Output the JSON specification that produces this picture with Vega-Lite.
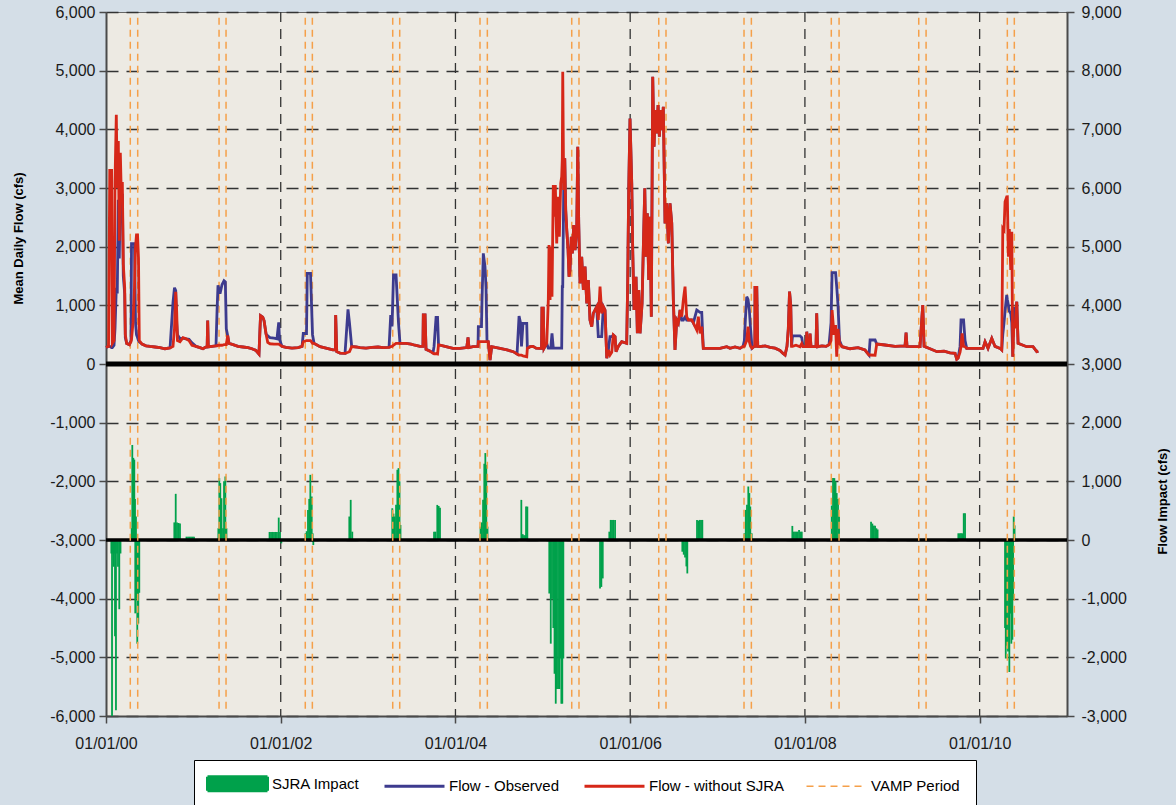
{
"$schema": "https://vega.github.io/schema/vega-lite/v6.json",
"width": 961, "height": 704,
"autosize": {"type": "none"},
"padding": {"left": 106, "top": 12, "right": 109, "bottom": 89},
"background": "#d4dee7",
"config": {
  "view": {"fill": "#edeae3", "stroke": "#666", "strokeWidth": 1},
  "font": "Liberation Sans",
  "axis": {"labelFont": "Liberation Sans", "titleFont": "Liberation Sans", "labelFontSize": 16, "labelColor": "#1a1a1a", "titleColor": "#000", "domainColor": "#4a4a4a", "domainWidth": 2, "tickColor": "#4a4a4a", "tickWidth": 1.5, "tickSize": 7},
  "axisX": {"grid": false}
},
"datasets": {
"flow": [
{"t":2000.000,"o":280,"w":285},{"t":2000.029,"o":300,"w":300},{"t":2000.043,"o":300,"w":3300},{"t":2000.064,"o":280,"w":3300},{"t":2000.072,"o":280,"w":350},{"t":2000.092,"o":320,"w":400},{"t":2000.103,"o":600,"w":3100},{"t":2000.118,"o":1300,"w":4250},{"t":2000.129,"o":1200,"w":3000},{"t":2000.141,"o":2800,"w":3800},{"t":2000.152,"o":1800,"w":2100},{"t":2000.164,"o":2900,"w":3600},{"t":2000.175,"o":2600,"w":2900},{"t":2000.187,"o":2900,"w":3100},{"t":2000.198,"o":1500,"w":1700},{"t":2000.214,"o":1200,"w":1300},{"t":2000.221,"o":450,"w":500},{"t":2000.237,"o":350,"w":350},{"t":2000.267,"o":330,"w":330},{"t":2000.286,"o":400,"w":380},{"t":2000.292,"o":2050,"w":420},{"t":2000.309,"o":2050,"w":700},{"t":2000.326,"o":2050,"w":1300},{"t":2000.338,"o":700,"w":2000},{"t":2000.349,"o":500,"w":2200},{"t":2000.361,"o":450,"w":2200},{"t":2000.372,"o":400,"w":1800},{"t":2000.381,"o":380,"w":400},{"t":2000.412,"o":340,"w":340},{"t":2000.458,"o":310,"w":310},{"t":2000.504,"o":300,"w":300},{"t":2000.561,"o":290,"w":290},{"t":2000.618,"o":280,"w":280},{"t":2000.675,"o":260,"w":260},{"t":2000.733,"o":275,"w":275},{"t":2000.767,"o":1050,"w":300},{"t":2000.784,"o":1300,"w":600},{"t":2000.798,"o":1250,"w":1230},{"t":2000.809,"o":700,"w":900},{"t":2000.818,"o":500,"w":400},{"t":2000.847,"o":430,"w":380},{"t":2000.881,"o":440,"w":450},{"t":2000.916,"o":430,"w":430},{"t":2000.950,"o":420,"w":400},{"t":2000.984,"o":360,"w":320},
{"t":2001.030,"o":300,"w":300},{"t":2001.076,"o":280,"w":280},{"t":2001.110,"o":260,"w":260},{"t":2001.133,"o":280,"w":280},{"t":2001.158,"o":300,"w":300},{"t":2001.164,"o":740,"w":740},{"t":2001.171,"o":290,"w":290},{"t":2001.213,"o":300,"w":300},{"t":2001.259,"o":310,"w":310},{"t":2001.271,"o":900,"w":310},{"t":2001.282,"o":1340,"w":320},{"t":2001.305,"o":1200,"w":320},{"t":2001.328,"o":1350,"w":320},{"t":2001.351,"o":1420,"w":330},{"t":2001.366,"o":1400,"w":330},{"t":2001.377,"o":600,"w":330},{"t":2001.393,"o":480,"w":485},{"t":2001.408,"o":350,"w":350},{"t":2001.454,"o":330,"w":330},{"t":2001.511,"o":300,"w":300},{"t":2001.568,"o":290,"w":290},{"t":2001.625,"o":280,"w":280},{"t":2001.671,"o":260,"w":260},{"t":2001.717,"o":230,"w":230},{"t":2001.751,"o":170,"w":170},{"t":2001.769,"o":826,"w":826},{"t":2001.794,"o":800,"w":800},{"t":2001.809,"o":740,"w":740},{"t":2001.832,"o":513,"w":513},{"t":2001.851,"o":480,"w":370},{"t":2001.877,"o":450,"w":345},{"t":2001.923,"o":440,"w":340},{"t":2001.957,"o":430,"w":340},{"t":2001.977,"o":710,"w":340},{"t":2001.986,"o":420,"w":330},
{"t":2002.015,"o":300,"w":300},{"t":2002.060,"o":285,"w":285},{"t":2002.129,"o":270,"w":270},{"t":2002.198,"o":280,"w":280},{"t":2002.244,"o":300,"w":300},{"t":2002.258,"o":520,"w":380},{"t":2002.295,"o":520,"w":400},{"t":2002.304,"o":1545,"w":400},{"t":2002.341,"o":1545,"w":400},{"t":2002.364,"o":500,"w":352},{"t":2002.381,"o":352,"w":352},{"t":2002.450,"o":295,"w":295},{"t":2002.530,"o":267,"w":267},{"t":2002.598,"o":240,"w":240},{"t":2002.626,"o":240,"w":240},{"t":2002.629,"o":835,"w":835},{"t":2002.641,"o":210,"w":210},{"t":2002.679,"o":185,"w":185},{"t":2002.736,"o":182,"w":182},{"t":2002.770,"o":932,"w":200},{"t":2002.787,"o":700,"w":210},{"t":2002.812,"o":300,"w":295},{"t":2002.862,"o":290,"w":290},{"t":2002.908,"o":280,"w":280},{"t":2002.976,"o":270,"w":270},
{"t":2003.045,"o":285,"w":285},{"t":2003.114,"o":290,"w":290},{"t":2003.171,"o":280,"w":280},{"t":2003.240,"o":285,"w":285},{"t":2003.259,"o":835,"w":295},{"t":2003.274,"o":640,"w":300},{"t":2003.291,"o":1517,"w":320},{"t":2003.320,"o":1517,"w":352},{"t":2003.348,"o":700,"w":352},{"t":2003.365,"o":352,"w":352},{"t":2003.434,"o":352,"w":352},{"t":2003.491,"o":340,"w":340},{"t":2003.537,"o":320,"w":320},{"t":2003.594,"o":300,"w":300},{"t":2003.628,"o":300,"w":300},{"t":2003.632,"o":835,"w":835},{"t":2003.652,"o":835,"w":835},{"t":2003.663,"o":250,"w":250},{"t":2003.709,"o":220,"w":220},{"t":2003.743,"o":190,"w":182},{"t":2003.755,"o":300,"w":175},{"t":2003.778,"o":795,"w":175},{"t":2003.795,"o":795,"w":170},{"t":2003.806,"o":330,"w":324},{"t":2003.815,"o":324,"w":324},{"t":2003.892,"o":295,"w":295},{"t":2003.972,"o":267,"w":267},
{"t":2004.052,"o":267,"w":267},{"t":2004.129,"o":280,"w":280},{"t":2004.144,"o":454,"w":454},{"t":2004.155,"o":280,"w":280},{"t":2004.201,"o":295,"w":295},{"t":2004.258,"o":300,"w":300},{"t":2004.262,"o":636,"w":380},{"t":2004.298,"o":636,"w":380},{"t":2004.304,"o":1090,"w":380},{"t":2004.319,"o":1886,"w":380},{"t":2004.338,"o":1659,"w":380},{"t":2004.350,"o":1300,"w":380},{"t":2004.361,"o":400,"w":380},{"t":2004.376,"o":380,"w":380},{"t":2004.396,"o":68,"w":68},{"t":2004.415,"o":295,"w":295},{"t":2004.510,"o":267,"w":267},{"t":2004.590,"o":240,"w":240},{"t":2004.662,"o":210,"w":210},{"t":2004.705,"o":170,"w":170},{"t":2004.728,"o":818,"w":153},{"t":2004.745,"o":700,"w":150},{"t":2004.756,"o":300,"w":150},{"t":2004.773,"o":693,"w":140},{"t":2004.816,"o":693,"w":125},{"t":2004.823,"o":267,"w":267},{"t":2004.854,"o":295,"w":295},{"t":2004.888,"o":300,"w":300},{"t":2004.922,"o":270,"w":270},{"t":2004.957,"o":267,"w":267},{"t":2004.985,"o":267,"w":267},{"t":2004.990,"o":950,"w":950},{"t":2005.005,"o":950,"w":950},{"t":2005.014,"o":267,"w":267},
{"t":2005.045,"o":350,"w":350},{"t":2005.063,"o":270,"w":1100},{"t":2005.071,"o":270,"w":2028},{"t":2005.083,"o":270,"w":1090},{"t":2005.091,"o":270,"w":2000},{"t":2005.105,"o":523,"w":1147},{"t":2005.120,"o":270,"w":3050},{"t":2005.136,"o":270,"w":2510},{"t":2005.143,"o":270,"w":3050},{"t":2005.159,"o":270,"w":2056},{"t":2005.174,"o":270,"w":2851},{"t":2005.189,"o":270,"w":2170},{"t":2005.205,"o":270,"w":3079},{"t":2005.216,"o":270,"w":3192},{"t":2005.223,"o":1318,"w":3500},{"t":2005.228,"o":1318,"w":4981},{"t":2005.239,"o":2965,"w":2965},{"t":2005.251,"o":3505,"w":3505},{"t":2005.262,"o":2624,"w":2624},{"t":2005.274,"o":2283,"w":2283},{"t":2005.289,"o":1943,"w":1943},{"t":2005.300,"o":1488,"w":1488},{"t":2005.311,"o":1602,"w":1602},{"t":2005.326,"o":2170,"w":2170},{"t":2005.338,"o":1886,"w":1886},{"t":2005.354,"o":2369,"w":2369},{"t":2005.369,"o":1943,"w":1943},{"t":2005.388,"o":2283,"w":2283},{"t":2005.400,"o":3703,"w":3703},{"t":2005.411,"o":2397,"w":2397},{"t":2005.426,"o":1375,"w":1375},{"t":2005.445,"o":1829,"w":1829},{"t":2005.464,"o":1261,"w":1261},{"t":2005.483,"o":1659,"w":1659},{"t":2005.503,"o":1034,"w":1034},{"t":2005.521,"o":1431,"w":1431},{"t":2005.540,"o":750,"w":750},{"t":2005.560,"o":636,"w":636},{"t":2005.578,"o":863,"w":863},{"t":2005.617,"o":977,"w":977},{"t":2005.635,"o":466,"w":750},{"t":2005.655,"o":466,"w":1318},{"t":2005.674,"o":466,"w":863},{"t":2005.693,"o":977,"w":977},{"t":2005.712,"o":920,"w":920},{"t":2005.732,"o":97,"w":97},{"t":2005.750,"o":239,"w":239},{"t":2005.769,"o":466,"w":153},{"t":2005.789,"o":466,"w":200},{"t":2005.807,"o":494,"w":494},{"t":2005.827,"o":466,"w":466},{"t":2005.838,"o":210,"w":210},{"t":2005.864,"o":300,"w":300},{"t":2005.903,"o":380,"w":380},{"t":2005.960,"o":352,"w":352},{"t":2005.972,"o":1431,"w":1431},{"t":2005.983,"o":2965,"w":2965},{"t":2005.998,"o":4186,"w":4186},
{"t":2006.018,"o":3079,"w":3079},{"t":2006.029,"o":1943,"w":1943},{"t":2006.044,"o":920,"w":920},{"t":2006.067,"o":1488,"w":1488},{"t":2006.082,"o":523,"w":523},{"t":2006.098,"o":1261,"w":1261},{"t":2006.113,"o":523,"w":523},{"t":2006.136,"o":1034,"w":1034},{"t":2006.150,"o":1943,"w":1943},{"t":2006.167,"o":2994,"w":2994},{"t":2006.181,"o":1829,"w":1829},{"t":2006.196,"o":2567,"w":2567},{"t":2006.212,"o":1431,"w":1431},{"t":2006.227,"o":2510,"w":2510},{"t":2006.242,"o":807,"w":807},{"t":2006.258,"o":4896,"w":4896},{"t":2006.273,"o":3703,"w":3703},{"t":2006.288,"o":4328,"w":4328},{"t":2006.304,"o":3931,"w":3931},{"t":2006.319,"o":4413,"w":4413},{"t":2006.334,"o":3874,"w":3874},{"t":2006.350,"o":4328,"w":4328},{"t":2006.365,"o":3987,"w":3987},{"t":2006.379,"o":4385,"w":4385},{"t":2006.399,"o":2397,"w":2397},{"t":2006.418,"o":2738,"w":2738},{"t":2006.437,"o":2056,"w":2056},{"t":2006.456,"o":2738,"w":2738},{"t":2006.476,"o":2397,"w":2397},{"t":2006.494,"o":1090,"w":1090},{"t":2006.513,"o":239,"w":239},{"t":2006.533,"o":750,"w":750},{"t":2006.551,"o":700,"w":700},{"t":2006.571,"o":920,"w":920},{"t":2006.590,"o":750,"w":807},{"t":2006.608,"o":750,"w":1090},{"t":2006.628,"o":800,"w":1318},{"t":2006.647,"o":750,"w":807},{"t":2006.666,"o":750,"w":750},{"t":2006.705,"o":750,"w":750},{"t":2006.723,"o":700,"w":700},{"t":2006.762,"o":920,"w":580},{"t":2006.780,"o":900,"w":807},{"t":2006.800,"o":880,"w":523},{"t":2006.819,"o":880,"w":636},{"t":2006.837,"o":267,"w":267},{"t":2006.914,"o":267,"w":267},{"t":2006.991,"o":267,"w":267},
{"t":2007.028,"o":267,"w":267},{"t":2007.105,"o":295,"w":295},{"t":2007.143,"o":267,"w":267},{"t":2007.200,"o":290,"w":290},{"t":2007.257,"o":267,"w":267},{"t":2007.292,"o":300,"w":300},{"t":2007.307,"o":400,"w":300},{"t":2007.320,"o":800,"w":350},{"t":2007.334,"o":1147,"w":400},{"t":2007.349,"o":1100,"w":636},{"t":2007.364,"o":920,"w":380},{"t":2007.378,"o":600,"w":300},{"t":2007.395,"o":270,"w":270},{"t":2007.418,"o":300,"w":300},{"t":2007.427,"o":300,"w":300},{"t":2007.429,"o":1306,"w":1306},{"t":2007.449,"o":1306,"w":1306},{"t":2007.460,"o":300,"w":300},{"t":2007.486,"o":295,"w":295},{"t":2007.544,"o":310,"w":310},{"t":2007.601,"o":285,"w":285},{"t":2007.658,"o":270,"w":270},{"t":2007.715,"o":230,"w":230},{"t":2007.750,"o":180,"w":180},{"t":2007.773,"o":153,"w":153},{"t":2007.795,"o":300,"w":300},{"t":2007.810,"o":600,"w":600},{"t":2007.824,"o":1233,"w":1233},{"t":2007.838,"o":1000,"w":1000},{"t":2007.847,"o":300,"w":300},{"t":2007.858,"o":480,"w":300},{"t":2007.898,"o":480,"w":320},{"t":2007.944,"o":480,"w":295},{"t":2007.964,"o":450,"w":350},{"t":2007.979,"o":295,"w":295},
{"t":2008.015,"o":295,"w":295},{"t":2008.021,"o":551,"w":551},{"t":2008.030,"o":295,"w":295},{"t":2008.055,"o":295,"w":295},{"t":2008.059,"o":520,"w":520},{"t":2008.070,"o":295,"w":295},{"t":2008.127,"o":295,"w":295},{"t":2008.135,"o":863,"w":863},{"t":2008.145,"o":295,"w":295},{"t":2008.196,"o":310,"w":310},{"t":2008.242,"o":300,"w":300},{"t":2008.276,"o":330,"w":330},{"t":2008.299,"o":700,"w":400},{"t":2008.311,"o":1556,"w":920},{"t":2008.333,"o":1556,"w":500},{"t":2008.351,"o":1556,"w":665},{"t":2008.364,"o":1318,"w":125},{"t":2008.379,"o":1000,"w":600},{"t":2008.396,"o":400,"w":350},{"t":2008.425,"o":295,"w":295},{"t":2008.517,"o":260,"w":260},{"t":2008.608,"o":280,"w":280},{"t":2008.688,"o":238,"w":238},{"t":2008.734,"o":153,"w":153},{"t":2008.746,"o":409,"w":153},{"t":2008.803,"o":409,"w":150},{"t":2008.822,"o":341,"w":341},{"t":2008.917,"o":324,"w":324},
{"t":2009.032,"o":300,"w":300},{"t":2009.146,"o":310,"w":310},{"t":2009.158,"o":534,"w":534},{"t":2009.169,"o":300,"w":300},{"t":2009.261,"o":295,"w":295},{"t":2009.318,"o":295,"w":295},{"t":2009.337,"o":750,"w":750},{"t":2009.349,"o":1005,"w":1005},{"t":2009.364,"o":300,"w":300},{"t":2009.432,"o":260,"w":260},{"t":2009.512,"o":210,"w":210},{"t":2009.593,"o":220,"w":220},{"t":2009.661,"o":190,"w":190},{"t":2009.719,"o":182,"w":182},{"t":2009.738,"o":80,"w":80},{"t":2009.753,"o":100,"w":100},{"t":2009.776,"o":300,"w":200},{"t":2009.787,"o":750,"w":300},{"t":2009.799,"o":750,"w":523},{"t":2009.816,"o":750,"w":300},{"t":2009.833,"o":400,"w":295},{"t":2009.852,"o":267,"w":267},{"t":2009.947,"o":267,"w":267},
{"t":2010.039,"o":267,"w":267},{"t":2010.062,"o":380,"w":380},{"t":2010.096,"o":267,"w":267},{"t":2010.139,"o":437,"w":437},{"t":2010.176,"o":300,"w":300},{"t":2010.234,"o":267,"w":267},{"t":2010.253,"o":239,"w":239},{"t":2010.265,"o":500,"w":2312},{"t":2010.279,"o":700,"w":2283},{"t":2010.291,"o":900,"w":2766},{"t":2010.310,"o":1176,"w":2850},{"t":2010.317,"o":1100,"w":2851},{"t":2010.329,"o":1000,"w":1829},{"t":2010.340,"o":900,"w":2300},{"t":2010.356,"o":863,"w":1602},{"t":2010.368,"o":700,"w":2255},{"t":2010.379,"o":125,"w":125},{"t":2010.390,"o":977,"w":600},{"t":2010.405,"o":700,"w":636},{"t":2010.425,"o":1062,"w":1062},{"t":2010.440,"o":352,"w":352},{"t":2010.539,"o":295,"w":295},{"t":2010.611,"o":295,"w":295},{"t":2010.654,"o":210,"w":210},{"t":2010.672,"o":220,"w":220}
],
"impact": [
{"t":2000.061,"i":-230},{"t":2000.069,"i":-3000},{"t":2000.077,"i":-230},{"t":2000.088,"i":-456},{"t":2000.095,"i":-230},{"t":2000.103,"i":-1640},{"t":2000.114,"i":-2900},{"t":2000.126,"i":-230},{"t":2000.137,"i":-456},{"t":2000.152,"i":-1180},{"t":2000.166,"i":-230},
{"t":2000.294,"i":200},{"t":2000.301,"i":1620},{"t":2000.313,"i":1400},{"t":2000.324,"i":1370},{"t":2000.332,"i":700},{"t":2000.343,"i":400},{"t":2000.335,"i":-1250},{"t":2000.349,"i":-1000},{"t":2000.358,"i":-1767},{"t":2000.370,"i":-1425},{"t":2000.381,"i":-900},
{"t":2000.782,"i":300},{"t":2000.798,"i":787},{"t":2000.813,"i":300},{"t":2000.830,"i":290},{"t":2000.847,"i":280},
{"t":2000.921,"i":57},{"t":2000.939,"i":57},{"t":2000.956,"i":57},{"t":2000.973,"i":57},{"t":2000.990,"i":57},{"t":2001.007,"i":57},
{"t":2001.286,"i":200},{"t":2001.297,"i":1055},{"t":2001.308,"i":970},{"t":2001.322,"i":712},{"t":2001.339,"i":200},{"t":2001.351,"i":1000},{"t":2001.366,"i":1083},{"t":2001.379,"i":200},
{"t":2001.872,"i":137},{"t":2001.889,"i":137},{"t":2001.906,"i":137},{"t":2001.923,"i":137},{"t":2001.940,"i":137},{"t":2001.957,"i":137},{"t":2001.977,"i":382},{"t":2001.992,"i":137},{"t":2002.007,"i":-57},
{"t":2002.284,"i":114},{"t":2002.297,"i":150},{"t":2002.312,"i":513},{"t":2002.326,"i":700},{"t":2002.339,"i":1111},{"t":2002.355,"i":741},{"t":2002.366,"i":114},{"t":2002.373,"i":-86},
{"t":2002.785,"i":400},{"t":2002.801,"i":684},{"t":2002.819,"i":142},
{"t":2003.277,"i":541},{"t":2003.291,"i":450},{"t":2003.305,"i":400},{"t":2003.320,"i":600},{"t":2003.335,"i":1197},{"t":2003.348,"i":1225},{"t":2003.360,"i":1000},{"t":2003.371,"i":256},
{"t":2003.755,"i":142},{"t":2003.772,"i":142},{"t":2003.792,"i":598},{"t":2003.808,"i":580},{"t":2003.823,"i":550},
{"t":2004.287,"i":228},{"t":2004.302,"i":300},{"t":2004.316,"i":684},{"t":2004.330,"i":1300},{"t":2004.342,"i":1482},{"t":2004.353,"i":1282},{"t":2004.367,"i":228},
{"t":2004.754,"i":684},{"t":2004.770,"i":100},{"t":2004.785,"i":80},{"t":2004.800,"i":80},{"t":2004.808,"i":570},{"t":2004.823,"i":570},
{"t":2005.074,"i":-912},{"t":2005.091,"i":-1767},{"t":2005.105,"i":-1000},{"t":2005.120,"i":-1500},{"t":2005.134,"i":-2280},{"t":2005.148,"i":-2790},{"t":2005.159,"i":-2540},{"t":2005.174,"i":-2540},{"t":2005.189,"i":-2540},{"t":2005.200,"i":-2020},{"t":2005.212,"i":-2790},{"t":2005.223,"i":-2790},{"t":2005.235,"i":-2020},
{"t":2005.655,"i":-826},{"t":2005.670,"i":-800},{"t":2005.686,"i":-655},
{"t":2005.761,"i":142},{"t":2005.777,"i":342},{"t":2005.792,"i":342},{"t":2005.807,"i":342},{"t":2005.827,"i":342},
{"t":2006.597,"i":-200},{"t":2006.613,"i":-250},{"t":2006.628,"i":-300},{"t":2006.643,"i":-450},{"t":2006.654,"i":-570},
{"t":2006.765,"i":342},{"t":2006.780,"i":330},{"t":2006.796,"i":342},{"t":2006.811,"i":342},{"t":2006.826,"i":342},
{"t":2007.307,"i":114},{"t":2007.323,"i":513},{"t":2007.337,"i":600},{"t":2007.352,"i":912},{"t":2007.364,"i":800},{"t":2007.375,"i":570},{"t":2007.391,"i":114},
{"t":2007.856,"i":240},{"t":2007.872,"i":142},{"t":2007.887,"i":142},{"t":2007.902,"i":142},{"t":2007.918,"i":142},{"t":2007.933,"i":170},{"t":2007.948,"i":142},{"t":2007.964,"i":142},
{"t":2008.307,"i":587},{"t":2008.322,"i":1055},{"t":2008.337,"i":1055},{"t":2008.351,"i":1000},{"t":2008.364,"i":800},{"t":2008.379,"i":700},{"t":2008.391,"i":400},
{"t":2008.757,"i":313},{"t":2008.772,"i":280},{"t":2008.788,"i":245},{"t":2008.803,"i":245},{"t":2008.818,"i":200},{"t":2008.832,"i":180},
{"t":2009.756,"i":114},{"t":2009.772,"i":114},{"t":2009.787,"i":114},{"t":2009.802,"i":114},{"t":2009.818,"i":456},{"t":2009.833,"i":456},
{"t":2010.291,"i":-1500},{"t":2010.299,"i":-2020},{"t":2010.310,"i":-1800},{"t":2010.325,"i":-1900},{"t":2010.340,"i":-2250},{"t":2010.352,"i":-1254},{"t":2010.363,"i":-1767},{"t":2010.375,"i":-1700},{"t":2010.383,"i":-1000},{"t":2010.390,"i":400},{"t":2010.400,"i":250}
],
"vamp": [
{"v":2000.278},{"v":2000.363},{"v":2001.294},{"v":2001.374},{"v":2002.281},{"v":2002.362},{"v":2003.282},{"v":2003.362},{"v":2004.281},{"v":2004.365},{"v":2005.331},{"v":2005.414},{"v":2006.327},{"v":2006.410},{"v":2007.303},{"v":2007.387},{"v":2008.302},{"v":2008.391},{"v":2009.303},{"v":2009.387},{"v":2010.317},{"v":2010.397}
],
"grid": [{"g": 2002}, {"g": 2004}, {"g": 2006}, {"g": 2008}, {"g": 2010}],
"zero": [{"z": 0}]
},
"layer": [
 {
  "layer": [
   {
    "data": {"name": "grid"},
    "mark": {"type": "rule", "strokeDash": [10, 7], "strokeWidth": 1.3, "color": "#333"},
    "encoding": {
     "x": {"field": "g", "type": "quantitative",
       "axis": {"orient": "bottom", "values": [2000, 2002, 2004, 2006, 2008, 2010], "labelExpr": "'01/01/' + (datum.value < 2010 ? '0' : '') + (datum.value - 2000)", "title": null, "grid": false, "labelFlush": false, "labelPadding": 12, "labelFontSize": 16}}
    }
   },
   {
    "data": {"name": "impact"},
    "mark": {"type": "bar", "width": 1.8},
    "encoding": {
     "x": {"field": "t", "type": "quantitative", "scale": {"domain": [2000, 2011], "nice": false, "zero": false, "padding": 0},
       "axis": {"orient": "bottom", "values": [2000, 2002, 2004, 2006, 2008, 2010], "labelExpr": "'01/01/' + (datum.value < 2010 ? '0' : '') + (datum.value - 2000)", "title": null, "grid": false, "labelFlush": false, "labelPadding": 12, "labelFontSize": 16}},
     "y": {"field": "i", "type": "quantitative", "scale": {"domain": [-3000, 9000], "nice": false, "zero": false},
       "axis": {"orient": "right", "values": [-3000,-2000,-1000,0,1000,2000,3000,4000,5000,6000,7000,8000,9000], "labelExpr": "replace(format(datum.value, ','), '\u2212', '-')", "title": "Flow Impact (cfs)", "titleFontSize": 13, "titleFontWeight": "bold", "titleAngle": 270, "titleBaseline": "middle", "titleX": 95, "titleY": 489, "grid": false, "labelPadding": 7}},
     "y2": {"datum": 0},
     "color": {"datum": "SJRA Impact", "type": "nominal",
       "scale": {"domain": ["SJRA Impact", "Flow - Observed", "Flow - without SJRA", "VAMP Period"], "range": ["#00a14b", "#3d3b8e", "#d62718", "#f5a04a"]},
       "legend": {"orient": "none", "legendX": 88, "legendY": 748, "direction": "horizontal", "columns": 4, "title": null,
         "fillColor": "#ffffff", "strokeColor": "#000000", "padding": 16,
         "symbolSize": 400, "symbolType": "stroke", "symbolStrokeWidth": 3, "labelOffset": 47, "columnPadding": 18,
         "labelFont": "Liberation Sans", "labelFontSize": 15, "labelColor": "#000", "labelLimit": 300,
         "encode": {"symbols": {"update": {
           "shape": {"signal": "datum.value === 'SJRA Impact' ? 'M-1,-0.7H5V0.7H-1Z' : 'M-1,0H5'"},
           "fill": {"signal": "datum.value === 'SJRA Impact' ? '#00a14b' : 'transparent'"},
           "stroke": {"signal": "datum.value === 'SJRA Impact' ? 'transparent' : datum.value === 'Flow - Observed' ? '#3d3b8e' : datum.value === 'Flow - without SJRA' ? '#d62718' : '#f5a04a'"},
           "strokeWidth": {"signal": "datum.value === 'VAMP Period' ? 1.5 : 3"},
           "strokeDash": {"signal": "datum.value === 'VAMP Period' ? [7, 5] : [1, 0]"},
           "opacity": {"value": 1}
         }}}
       }}
    }
   },
   {
    "data": {"name": "zero"},
    "mark": {"type": "rule", "color": "#000", "strokeWidth": 3.5},
    "encoding": {"y": {"field": "z", "type": "quantitative"}}
   }
  ]
 },
 {
  "layer": [
   {
    "data": {"name": "vamp"},
    "mark": {"type": "rule", "strokeDash": [7, 5], "strokeWidth": 1.5},
    "encoding": {
     "x": {"field": "v", "type": "quantitative",
       "axis": {"orient": "bottom", "values": [2000, 2002, 2004, 2006, 2008, 2010], "labelExpr": "'01/01/' + (datum.value < 2010 ? '0' : '') + (datum.value - 2000)", "title": null, "grid": false, "labelFlush": false, "labelPadding": 12, "labelFontSize": 16}},
     "y": {"datum": 5900},
     "y2": {"datum": -5900},
     "color": {"datum": "VAMP Period", "type": "nominal"}
    }
   },
   {
    "data": {"name": "zero"},
    "mark": {"type": "rule", "color": "#000", "strokeWidth": 5},
    "encoding": {"y": {"field": "z", "type": "quantitative"}}
   },
   {
    "data": {"name": "flow"},
    "mark": {"type": "line", "strokeWidth": 2.8},
    "encoding": {
     "x": {"field": "t", "type": "quantitative",
       "axis": {"orient": "bottom", "values": [2000, 2002, 2004, 2006, 2008, 2010], "labelExpr": "'01/01/' + (datum.value < 2010 ? '0' : '') + (datum.value - 2000)", "title": null, "grid": false, "labelFlush": false, "labelPadding": 12, "labelFontSize": 16}},
     "y": {"field": "o", "type": "quantitative"},
     "color": {"datum": "Flow - Observed", "type": "nominal"}
    }
   },
   {
    "data": {"name": "flow"},
    "mark": {"type": "line", "strokeWidth": 2.8},
    "encoding": {
     "x": {"field": "t", "type": "quantitative",
       "axis": {"orient": "bottom", "values": [2000, 2002, 2004, 2006, 2008, 2010], "labelExpr": "'01/01/' + (datum.value < 2010 ? '0' : '') + (datum.value - 2000)", "title": null, "grid": false, "labelFlush": false, "labelPadding": 12, "labelFontSize": 16}},
     "y": {"field": "w", "type": "quantitative", "scale": {"domain": [-6000, 6000], "nice": false, "zero": false},
       "axis": {"orient": "left", "values": [-6000,-5000,-4000,-3000,-2000,-1000,0,1000,2000,3000,4000,5000,6000], "labelExpr": "replace(format(datum.value, ','), '\u2212', '-')", "title": "Mean Daily Flow (cfs)", "titleFontSize": 13, "titleFontWeight": "bold", "titleAngle": 270, "titleBaseline": "middle", "titleX": -88, "titleY": 226, "grid": true, "gridDash": [12, 8], "gridColor": "#333", "gridWidth": 1.3, "labelPadding": 4}},
     "color": {"datum": "Flow - without SJRA", "type": "nominal"}
    }
   }
  ]
 }
],
"resolve": {"scale": {"y": "independent"}}
}
